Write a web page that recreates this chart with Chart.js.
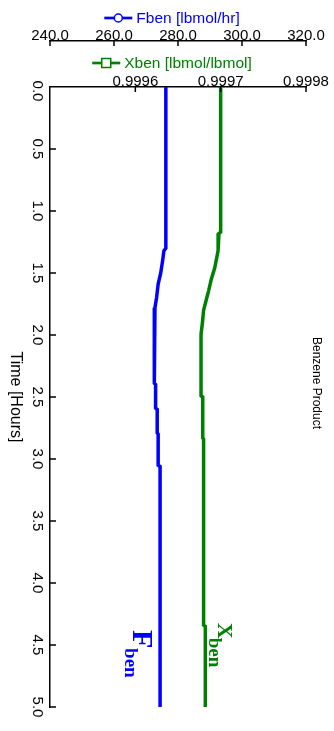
<!DOCTYPE html>
<html>
<head>
<meta charset="utf-8">
<script src="https://cdn.jsdelivr.net/npm/chart.js@4"></script>
<style>
  html, body { margin: 0; padding: 0; background: #fff; }
  #wrap { width: 334px; height: 731px; }
</style>
</head>
<body>
<div id="wrap"><canvas id="chart"></canvas></div>
<script>
// Benzene product, time runs down the page
const fbenTime  = [0, 1.30, 1.32, 1.40, 1.50, 1.59, 1.70, 1.78, 1.88, 2.39, 2.40, 2.59, 2.60, 2.79, 2.80, 3.05, 3.06, 5.0];
const fbenValue = [276.2, 276.2, 275.6, 275.2, 274.6, 273.8, 273.3, 272.8, 272.6, 272.6, 273.0, 273.0, 273.5, 273.5, 273.8, 273.8, 274.4, 274.4];

const xbenTime  = [0, 1.17, 1.18, 1.32, 1.46, 1.55, 1.64, 1.72, 1.80, 1.91, 1.99, 2.49, 2.50, 2.83, 2.84, 4.34, 4.35, 5.0];
const xbenValue = [0.999700, 0.999700, 0.999698, 0.999697, 0.999693, 0.999689, 0.999686, 0.999683, 0.999680, 0.9996785, 0.999677,
                   0.999677, 0.999679, 0.999679, 0.999680, 0.999680, 0.999682, 0.999682];

const fbenTicks = [240, 260, 280, 300, 320];
const xbenTicks = [0.9996, 0.9997, 0.9998];
const timeTicks = [0, 0.5, 1.0, 1.5, 2.0, 2.5, 3.0, 3.5, 4.0, 4.5, 5.0];

const BLUE = 'rgb(0, 0, 255)';
const GREEN = 'rgb(0, 128, 0)';
const SANS = '"Liberation Sans", Arial, sans-serif';
const SERIF = '"Liberation Serif", "Times New Roman", serif';

function points(times, values) {
    return times.map((t, i) => ({ x: values[i], y: t }));
}

function rotated(ctx, x, y, draw) {
    ctx.save();
    ctx.translate(x, y);
    ctx.rotate(Math.PI / 2);
    draw();
    ctx.restore();
}

const decorations = {
    id: 'decorations',
    afterDraw(chart) {
        const ctx = chart.ctx;
        const area = chart.chartArea;
        const yS = chart.scales.y, xF = chart.scales.xF, xX = chart.scales.xX;
        const midX = (area.left + area.right) / 2;

        ctx.save();
        // tick marks point into the plot
        ctx.strokeStyle = '#000';
        ctx.lineWidth = 1.5;
        ctx.beginPath();
        xF.ticks.forEach(t => {
            const p = xF.getPixelForValue(t.value);
            ctx.moveTo(p, xF.bottom); ctx.lineTo(p, xF.bottom + 5);
        });
        xX.ticks.forEach(t => {
            const p = xX.getPixelForValue(t.value);
            ctx.moveTo(p, area.top); ctx.lineTo(p, area.top + 5);
        });
        yS.ticks.forEach(t => {
            if (t.value === 0) return;
            const p = yS.getPixelForValue(t.value);
            ctx.moveTo(area.left, p); ctx.lineTo(area.left + 6, p);
        });
        ctx.stroke();

        // time labels, turned a quarter clockwise
        ctx.fillStyle = '#000';
        ctx.font = '15px ' + SANS;
        ctx.textAlign = 'center';
        ctx.textBaseline = 'middle';
        yS.ticks.forEach((t, i) => {
            const p = yS.getPixelForValue(t.value) + (i === 0 ? 4 : 0);
            rotated(ctx, area.left - 13, p, () => ctx.fillText(t.value.toFixed(1), 0, 0));
        });
        ctx.font = '16px ' + SANS;
        rotated(ctx, 15, (area.top + area.bottom) / 2, () => ctx.fillText('Time [Hours]', 0, 0));
        ctx.font = '12px ' + SANS;
        rotated(ctx, area.right + 10, (area.top + area.bottom) / 2 - 14, () => ctx.fillText('Benzene Product', 0, 0));

        // axis legends
        ctx.font = '15.5px ' + SANS;
        ctx.textAlign = 'left';
        ctx.textBaseline = 'alphabetic';
        const legends = [
            { text: 'Fben [lbmol/hr]', color: BLUE, y: xF.top + 18, marker: 'circle' },
            { text: 'Xben [lbmol/lbmol]', color: GREEN, y: xX.top + 22, marker: 'square' }
        ];
        legends.forEach(l => {
            const w = ctx.measureText(l.text).width;
            const x0 = midX + 10 - w / 2;
            ctx.fillStyle = l.color;
            ctx.fillText(l.text, x0, l.y + 5);
            ctx.strokeStyle = l.color;
            ctx.lineWidth = 2.7;
            ctx.beginPath();
            ctx.moveTo(x0 - 32, l.y); ctx.lineTo(x0 - 4, l.y);
            ctx.stroke();
            const cx = x0 - 18;
            ctx.fillStyle = '#fff';
            ctx.lineWidth = 1.5;
            ctx.beginPath();
            if (l.marker === 'circle') ctx.arc(cx, l.y, 4, 0, Math.PI * 2);
            else ctx.rect(cx - 4.5, l.y - 4.5, 9, 9);
            ctx.fill();
            ctx.stroke();
        });

        // curve labels
        ctx.textAlign = 'left';
        ctx.textBaseline = 'alphabetic';
        ctx.fillStyle = BLUE;
        rotated(ctx, xF.getPixelForValue(266), yS.getPixelForValue(4.38), () => {
            ctx.font = 'bold 30px ' + SERIF;
            ctx.fillText('F', 0, 0);
            ctx.font = 'bold 19px ' + SERIF;
            ctx.fillText('ben', 18, 8);
        });
        ctx.fillStyle = GREEN;
        rotated(ctx, xX.getPixelForValue(0.9996965), yS.getPixelForValue(4.32), () => {
            ctx.font = 'bold 22px ' + SERIF;
            ctx.fillText('X', 0, 0);
            ctx.font = 'bold 19px ' + SERIF;
            ctx.fillText('ben', 15, 9);
        });
        ctx.restore();
    }
};

const axisBorder = { display: true, color: '#000', width: 1.5 };
const noGrid = { display: false, drawTicks: false };

new Chart(document.getElementById('chart'), {
    type: 'scatter',
    data: {
        datasets: [
            {
                label: 'Fben [lbmol/hr]',
                data: points(fbenTime, fbenValue),
                xAxisID: 'xF',
                showLine: true,
                borderColor: BLUE,
                borderWidth: 3.5,
                pointRadius: 0,
                tension: 0
            },
            {
                label: 'Xben [lbmol/lbmol]',
                data: points(xbenTime, xbenValue),
                xAxisID: 'xX',
                showLine: true,
                borderColor: GREEN,
                borderWidth: 3.5,
                pointRadius: 0,
                tension: 0
            }
        ]
    },
    options: {
        responsive: true,
        maintainAspectRatio: false,
        animation: false,
        layout: { padding: { top: 0, right: 28, bottom: 24, left: 0 } },
        plugins: {
            legend: { display: false },
            tooltip: { enabled: false }
        },
        scales: {
            xF: {
                type: 'linear',
                position: 'top',
                weight: 2,
                min: 240, max: 320,
                afterBuildTicks: s => { s.ticks = fbenTicks.map(v => ({ value: v })); },
                afterFit: s => { s.height = 41; },
                grid: noGrid,
                border: axisBorder,
                ticks: {
                    color: '#000',
                    padding: -4,
                    font: { family: SANS, size: 15 },
                    callback: v => v.toFixed(1)
                }
            },
            xX: {
                type: 'linear',
                position: 'top',
                weight: 1,
                min: 0.9995, max: 0.9998,
                afterBuildTicks: s => { s.ticks = xbenTicks.map(v => ({ value: v })); },
                afterFit: s => { s.height = 46; },
                grid: noGrid,
                border: axisBorder,
                ticks: {
                    color: '#000',
                    padding: -4,
                    font: { family: SANS, size: 15 },
                    callback: v => v.toFixed(4)
                }
            },
            y: {
                type: 'linear',
                reverse: true,
                min: 0, max: 5,
                afterBuildTicks: s => { s.ticks = timeTicks.map(v => ({ value: v })); },
                afterFit: s => { s.width = 50; },
                grid: noGrid,
                border: axisBorder,
                ticks: { display: false }
            }
        }
    },
    plugins: [decorations]
});
</script>
</body>
</html>
